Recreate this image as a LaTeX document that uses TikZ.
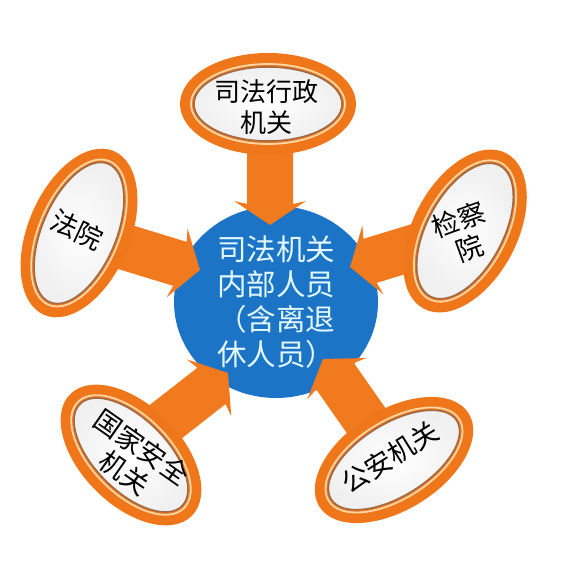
\documentclass[tikz,border=0pt]{standalone}
\usepackage{fontspec}
\newfontfamily\cjk{Noto Sans CJK SC}
\definecolor{borange}{HTML}{F0761A}
\definecolor{aorange}{HTML}{F27A1E}
\definecolor{cblue}{HTML}{1C74C6}
\definecolor{ctext}{HTML}{E4F8FF}
\definecolor{ringbrown}{HTML}{9C6A48}
\definecolor{ringcream}{HTML}{F9D7A6}
\newcommand{\badgeshape}[4]{%
  \begin{scope}[shift={#1}, rotate=#2]
    \fill[borange] (0,0) ellipse [x radius=#3, y radius=#4];
    \draw[ringcream, line width=1.8] (0,0) ellipse [x radius=#3-11, y radius=#4-11];
    \shade[inner color=white, outer color=black!6] (0,0) ellipse [x radius=#3-14, y radius=#4-14];
    \draw[ringbrown, line width=1.5] (0,0) ellipse [x radius=#3-14, y radius=#4-14];
  \end{scope}}
\newcommand{\blockarrow}[3]{%
  \fill[aorange, shift={(#1)}, rotate=#2] (0,0) -- (-24,36) -- (-21,23) -- (-#3,23) -- (-#3,-23) -- (-21,-23) -- (-24,-36) -- cycle;}
\begin{document}
\begin{tikzpicture}[x=1pt,y=1pt,
  btext/.style={font=\cjk\fontsize{27}{31}\selectfont, align=center, text=black, inner sep=0pt},
  htext/.style={font=\cjk\fontsize{29.5}{35}\selectfont, align=left, text=ctext, inner sep=0pt}]
\useasboundingbox (0,0) rectangle (568,568);
\fill[white] (0,0) rectangle (568,568);

% hub
\fill[cblue] (276,266) ellipse [x radius=102, y radius=96];
\node[htext] (hub) at (276,266) {司法机关\\内部人员\\（含离退\\休人员）};

% arrow tips
\coordinate (tA) at (270,343);
\coordinate (tB) at (200,298);
\coordinate (tC) at (350,301);
\coordinate (tD) at (228,195);
\coordinate (tE) at (323,209);

\blockarrow{tA}{-90}{125}
\blockarrow{tB}{-17}{130}
\blockarrow{tC}{197}{125}
\blockarrow{tD}{38}{125}
\blockarrow{tE}{125}{125}

% badges
\badgeshape{(268,464)}{0}{88}{51}
\node[btext, font=\cjk\fontsize{26}{31}\selectfont] (sfxz) at (266,461) {司法行政\\机关};

\badgeshape{(79,335)}{67}{89}{51}
\node[btext, rotate=-25] (fy) at (77,338) {法院};

\badgeshape{(465,337)}{62}{88}{52}
\node[btext, rotate=20] (jcy) at (464,334) {检察\\院};

\badgeshape{(131,113)}{-45}{86}{50}
\node[btext, rotate=-35] (gjaq) at (133,108) {国家安全\\机关};

\badgeshape{(394,108)}{32}{88}{50}
\node[btext, rotate=32] (ga) at (390,111) {公安机关};
\end{tikzpicture}
\end{document}
